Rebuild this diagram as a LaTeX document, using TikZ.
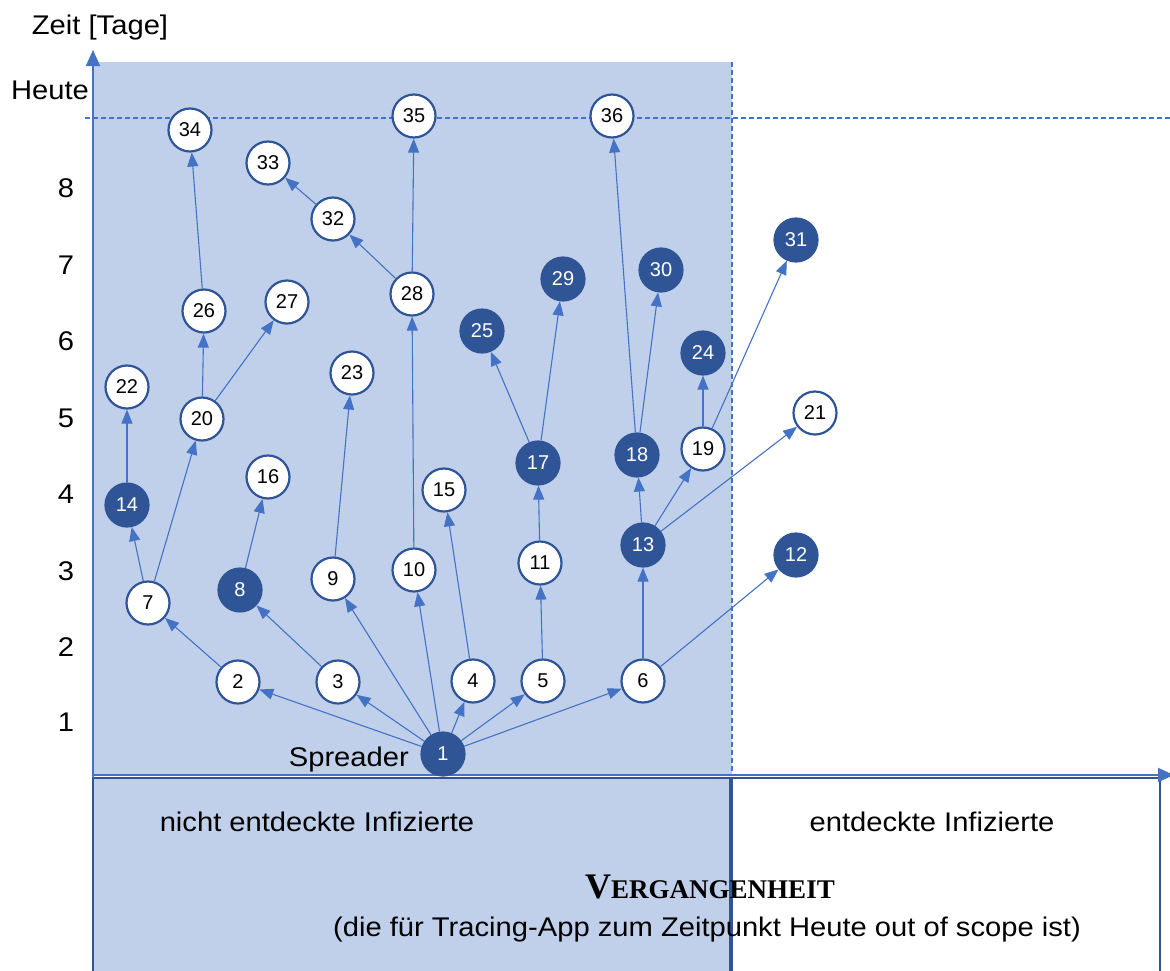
\documentclass[tikz,border=0pt]{standalone}
\usepackage{fontspec}
\setmainfont{Liberation Sans}
\newfontfamily\widefont[FakeStretch=1.08]{Liberation Sans}
\newfontfamily\vfont{Liberation Serif}
\usetikzlibrary{arrows.meta}
\definecolor{lineblue}{HTML}{4472C4}
\definecolor{darkblue}{HTML}{2F5597}
\definecolor{bgblue}{HTML}{C0D0EB}
\tikzset{
  inf/.style={circle,draw=darkblue,line width=2.2pt,fill=white,minimum size=43pt,inner sep=0pt,font=\fontsize{20}{23}\selectfont},
  found/.style={inf,fill=darkblue,text=white},
  edge/.style={lineblue,line width=1.1pt,-{Triangle[length=14pt,width=11pt]}},
  axis/.style={lineblue,line width=2pt,-{Triangle[length=16pt,width=14pt]}},
  lbl/.style={font=\widefont\fontsize{27}{32}\selectfont,inner sep=0pt},
  dashline/.style={lineblue,line width=1.1pt,dash pattern=on 5pt off 3pt},
}
\begin{document}
\begin{tikzpicture}[x=1pt,y=-1pt]
\useasboundingbox (0,0) rectangle (1170,970);
% shaded region
\fill[bgblue] (93,62) rectangle (732,775);
\draw[dashline] (732,62) -- (732,775);
\draw[dashline] (85,118) -- (1170,118);
% lower boxes
\draw[darkblue,line width=2.5pt,fill=bgblue] (93,778) rectangle (730,975);
\draw[darkblue,line width=2.5pt] (732,778) rectangle (1160,975);
% axes
\coordinate (o) at (93,778);
\coordinate (ytip) at (93,50);
\coordinate (xs) at (93,775);
\coordinate (xtip) at (1174,775);
\draw[axis] (o) -- (ytip);
\draw[axis] (xs) -- (xtip);
% labels
\node[lbl] (zeit) at (100,28) {Zeit [Tage]};
\node[lbl] (heute) at (50,90) {Heute};
\foreach \v/\y in {8/188,7/265,6/341,5/418,4/494,3/571,2/647,1/722}
  \node[lbl] (t\v) at (66,\y) {\v};
\node[lbl,anchor=east] (spr) at (409,760) {Spreader};
\node[lbl] (ne) at (317,822) {nicht entdeckte Infizierte};
\node[lbl] (en) at (932,822) {entdeckte Infizierte};
\node[inner sep=0pt] (verg) at (710,887) {\vfont\bfseries{\fontsize{36}{40}\selectfont V}{\fontsize{27}{30}\selectfont ERGANGENHEIT}};
\node[lbl] (sub) at (707,930) {(die für Tracing-App zum Zeitpunkt Heute out of scope ist)};
% nodes
\node[found] (1) at (443,754) {1};
\node[inf] (2) at (238,682) {2};
\node[inf] (3) at (338,682) {3};
\node[inf] (4) at (473,681) {4};
\node[inf] (5) at (543,681) {5};
\node[inf] (6) at (643,681) {6};
\node[inf] (7) at (148,603) {7};
\node[found] (8) at (240,590) {8};
\node[inf] (9) at (333,579) {9};
\node[inf] (10) at (414,570) {10};
\node[inf] (11) at (540,563) {11};
\node[found] (12) at (796,555) {12};
\node[found] (13) at (643,545) {13};
\node[found] (14) at (127,505) {14};
\node[inf] (15) at (444,490) {15};
\node[inf] (16) at (268,477) {16};
\node[found] (17) at (538,463) {17};
\node[found] (18) at (637,455) {18};
\node[inf] (19) at (703,449) {19};
\node[inf] (20) at (202,419) {20};
\node[inf] (21) at (815,413) {21};
\node[inf] (22) at (127,387) {22};
\node[inf] (23) at (352,373) {23};
\node[found] (24) at (703,353) {24};
\node[found] (25) at (482,331) {25};
\node[inf] (26) at (204,311) {26};
\node[inf] (27) at (287,302) {27};
\node[inf] (28) at (412,294) {28};
\node[found] (29) at (563,279) {29};
\node[found] (30) at (661,270) {30};
\node[found] (31) at (796,240) {31};
\node[inf] (32) at (333,219) {32};
\node[inf] (33) at (268,163) {33};
\node[inf] (34) at (190,130) {34};
\node[inf] (35) at (414,116) {35};
\node[inf] (36) at (612,116) {36};
% edges
\foreach \a/\b in {1/2,1/3,1/4,1/5,1/6,1/9,1/10,2/7,3/8,4/15,5/11,6/13,6/12,7/14,7/20,8/16,9/23,10/28,11/17,13/18,13/19,13/21,14/22,17/25,17/29,18/30,18/36,19/24,19/31,20/26,20/27,26/34,28/32,28/35,32/33}
  \draw[edge] (\a) -- (\b);
\end{tikzpicture}
\end{document}
